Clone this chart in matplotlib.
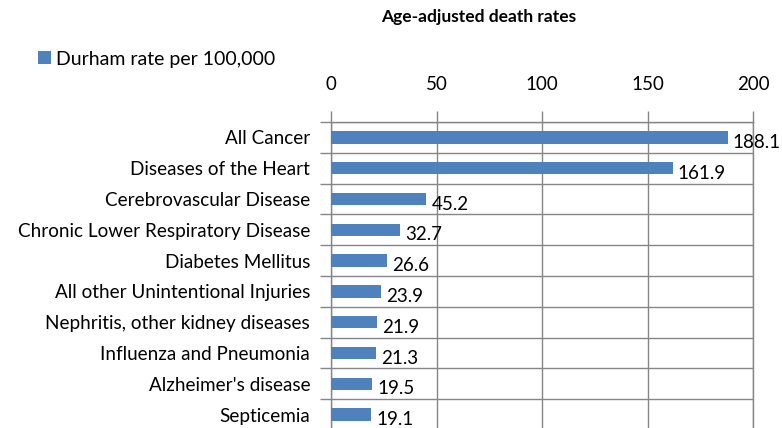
import matplotlib
matplotlib.use("Agg")
import matplotlib.pyplot as plt
import numpy as np

categories = ["All Cancer", "Diseases of the Heart", "Cerebrovascular Disease",
              "Chronic Lower Respiratory Disease", "Diabetes Mellitus",
              "All other Unintentional Injuries", "Nephritis, other kidney diseases",
              "Influenza and Pneumonia", "Alzheimer's disease", "Septicemia"]
rates = [188.1, 161.9, 45.2, 32.7, 26.6, 23.9, 21.9, 21.3, 19.5, 19.1]
xticks = [0, 50, 100, 150, 200]
series_name = "Durham rate per 100,000"
title = "Age-adjusted death rates"

plt.rcParams['font.family'] = ['Lato', 'DejaVu Sans']
W, H = 782, 428
fig = plt.figure(figsize=(W/100, H/100), dpi=100)
left, right, top, bottom = 331, 753, 122, 430
ax = fig.add_axes([left/W, 1-bottom/H, (right-left)/W, (bottom-top)/H])

color = "#4F81BD"
grid = "#868686"
y = np.arange(len(categories))
ax.barh(y, rates, height=0.4, color=color, zorder=3, label=series_name)
ax.set_xlim(0, 200)
ax.set_ylim(len(categories)-0.5, -0.5)
ax.xaxis.tick_top()
ax.set_xticks(xticks)
ax.set_xticklabels([str(t) for t in xticks], fontsize=13.5)
ax.tick_params(axis='x', length=8, color=grid, width=1, pad=13, direction='out')
ax.set_yticks(y)
ax.set_yticklabels(categories, fontsize=13.6)
ax.tick_params(axis='y', which='major', length=0, pad=15)
ax.set_yticks(np.arange(-0.5, len(categories)), minor=True)
ax.tick_params(axis='y', which='minor', length=8, color=grid, width=1)
ax.grid(axis='x', which='major', color=grid, linewidth=1, zorder=0)
ax.grid(axis='y', which='minor', color=grid, linewidth=1, zorder=0)
for s in ax.spines.values():
    s.set_color(grid)
    s.set_linewidth(1)

for yi, v in zip(y, rates):
    ax.annotate(f"{v:.1f}", (v, yi), xytext=(5, -5), textcoords='offset pixels',
                ha='left', va='center', fontsize=13.5, zorder=4)

fig.text(479/W, 1-17/H, title, ha='center', va='center', fontsize=12.5, fontweight='bold')
ax.legend(loc='center left', bbox_to_anchor=(38/W, 1-59/H), bbox_transform=fig.transFigure,
          frameon=False, fontsize=14, handlelength=0.65, handleheight=0.65, handletextpad=0.3,
          borderaxespad=0, borderpad=0)

fig.savefig("out.png", dpi=100)
